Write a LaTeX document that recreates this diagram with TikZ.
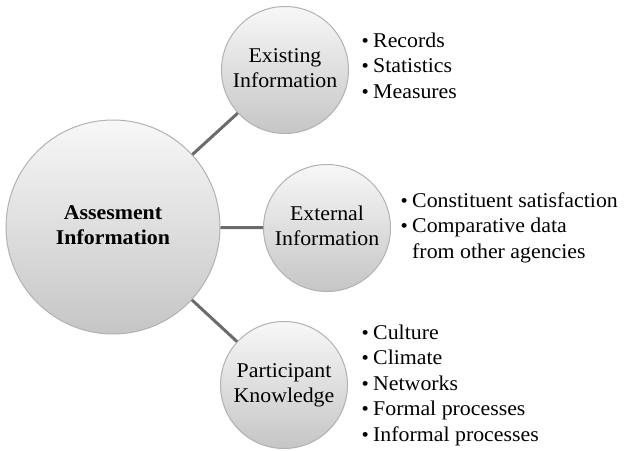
\documentclass[tikz,border=0pt]{standalone}
\usepackage{fontspec}
\setmainfont{Liberation Serif}[FakeStretch=1.04]
\newcommand\bl{\makebox[12pt][l]{\makebox[8pt][c]{\fontsize{20}{20}\selectfont\textbullet}}}
\newcommand\twoline[2]{\begin{tabular}{@{}c@{}}#1\\#2\end{tabular}}
\begin{document}
\begin{tikzpicture}[x=1pt,y=-1pt,
  bub/.style={circle, draw=gray!60, line width=1pt, top color=gray!6, bottom color=gray!45, inner sep=0pt, font=\fontsize{21}{25}\selectfont},
  link/.style={draw=black!58, line width=3pt},
  lst/.style={anchor=base west, inner sep=0pt, font=\fontsize{21}{25.5}\selectfont}]
\fill[white] (0,0) rectangle (624,450);
\useasboundingbox (0,0) rectangle (624,450);
\node[bub, minimum size=214pt] (main) at (113,227) {\twoline{\textbf{Assesment}}{\textbf{Information}}};
\node[bub, minimum size=127pt] (exist) at (285,70) {\twoline{Existing}{Information}};
\node[bub, minimum size=127pt] (ext) at (327,228) {\twoline{External}{Information}};
\node[bub, minimum size=127pt] (part) at (284,385) {\twoline{Participant}{Knowledge}};
\draw[link] (main) -- (exist);
\draw[link] (main) -- (ext);
\draw[link] (main) -- (part);
\node[lst] (l1) at (361,47) {\begin{tabular}[t]{@{}l@{}}\bl Records\\\bl Statistics\\\bl Measures\end{tabular}};
\node[lst] (l2) at (400,207) {\begin{tabular}[t]{@{}l@{}}\bl Constituent satisfaction\\\bl Comparative data\\\hspace*{12pt}from other agencies\end{tabular}};
\node[lst] (l3) at (361,339) {\begin{tabular}[t]{@{}l@{}}\bl Culture\\\bl Climate\\\bl Networks\\\bl Formal processes\\\bl Informal processes\end{tabular}};
\end{tikzpicture}
\end{document}
